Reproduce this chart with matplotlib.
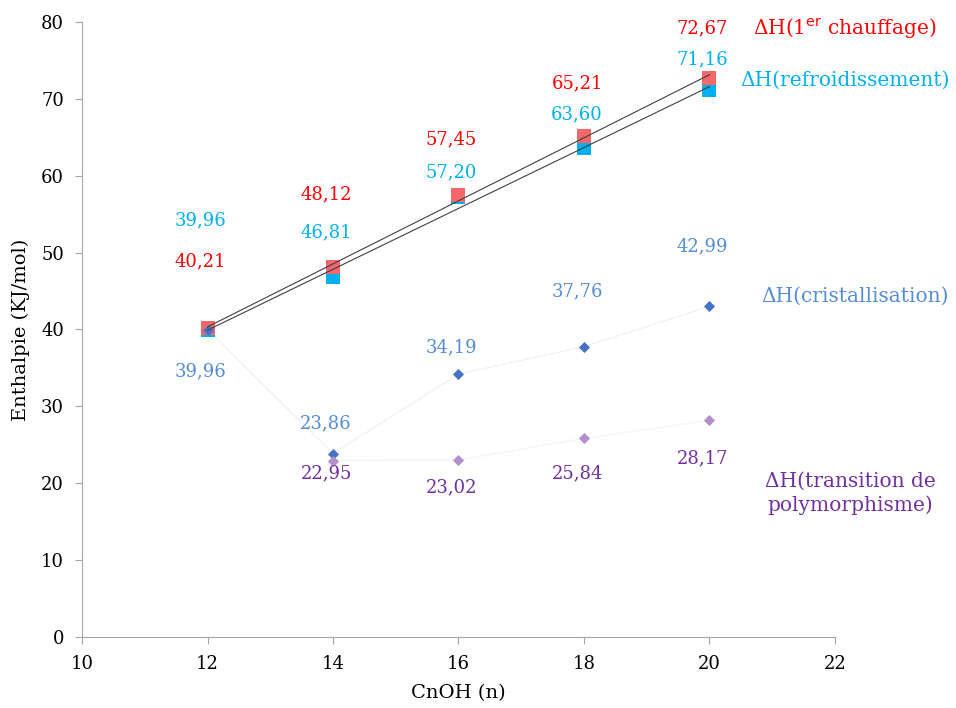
import matplotlib.pyplot as plt
import numpy as np

# CnOH chain length
n_heat = [12, 14, 16, 18, 20]
h_heat = [40.21, 48.12, 57.45, 65.21, 72.67]        # 1er chauffage
h_cool = [39.96, 46.81, 57.20, 63.60, 71.16]        # refroidissement
n_cryst = [12, 14, 16, 18, 20]
h_cryst = [39.96, 23.86, 34.19, 37.76, 42.99]       # cristallisation
n_poly = [14, 16, 18, 20]
h_poly = [22.95, 23.02, 25.84, 28.17]               # transition de polymorphisme

# label offsets (points) above (+) / below (-) each marker
off_heat = [48, 52, 40, 38, 36]
off_cool = [79, 32, 18, 24, 22]
off_cryst = [-30, 22, 19, 40, 43]
off_poly = [-9, -20, -25, -27]

c_heat_txt, c_heat_mk = '#FF0000', '#F4676B'
c_cool = '#00B0F0'
c_cryst_txt, c_cryst_mk = '#558ED5', '#4472C4'
c_poly_txt, c_poly_mk = '#7030A0', '#B38FCC'

plt.rcParams['font.family'] = ['DejaVu Serif']

fig = plt.figure(figsize=(9.56, 7.08), dpi=100)
ax = fig.add_axes([0.0858, 0.1003, 0.7876, 0.8687])

# faint connecting lines
ax.plot(n_cryst, h_cryst, color='#F2F2F2', lw=1, zorder=1)
ax.plot(n_poly, h_poly, color='#F5F5F5', lw=1, zorder=1)

# markers
ax.scatter(n_heat, h_heat, marker='s', s=90, color=c_heat_mk, zorder=3, lw=0)
ax.scatter(n_heat, h_cool, marker='s', s=90, color=c_cool, zorder=2, lw=0)
ax.scatter(n_cryst, h_cryst, marker='D', s=32, color=c_cryst_mk, zorder=3, lw=0)
ax.scatter(n_poly, h_poly, marker='D', s=32, color=c_poly_mk, zorder=3, lw=0)

# linear trend lines
xs = np.array([min(n_heat), max(n_heat)])
for ys in (h_heat, h_cool):
    p = np.polyfit(n_heat, ys, 1)
    ax.plot(xs, np.polyval(p, xs), color='#404040', lw=0.8, zorder=4)

def fmt(v):
    return f'{v:.2f}'.replace('.', ',')

def labels(xv, yv, offs, color):
    for x, y, o in zip(xv, yv, offs):
        ax.annotate(fmt(y), (x, y), xytext=(-5, o), textcoords='offset points',
                    ha='center', va='center', color=color, fontsize=13)

labels(n_heat, h_heat, off_heat, c_heat_txt)
labels(n_heat, h_cool, off_cool, c_cool)
labels(n_cryst, h_cryst, off_cryst, c_cryst_txt)
labels(n_poly, h_poly, off_poly, c_poly_txt)

# series names
fig.text(0.884, 0.960, r'ΔH(1$^{\rm er}$ chauffage)', color=c_heat_txt, fontsize=14.5,
         ha='center', va='center')
fig.text(0.884, 0.887, 'ΔH(refroidissement)', color=c_cool, fontsize=14.5,
         ha='center', va='center')
fig.text(0.894, 0.581, 'ΔH(cristallisation)', color=c_cryst_txt, fontsize=14.5,
         ha='center', va='center')
fig.text(0.889, 0.303, 'ΔH(transition de\npolymorphisme)', color=c_poly_txt, fontsize=14.5,
         ha='center', va='center', linespacing=1.3)

ax.set_xlim(10, 22)
ax.set_ylim(0, 80)
ax.set_xticks(range(10, 23, 2))
ax.set_yticks(range(0, 81, 10))
ax.set_xlabel('CnOH (n)', fontsize=14, labelpad=8)
ax.set_ylabel('Enthalpie (KJ/mol)', fontsize=14, labelpad=8)
ax.tick_params(labelsize=13, direction='out', length=5, color='#A6A6A6', pad=8)
for s in ('top', 'right'):
    ax.spines[s].set_visible(False)
for s in ('left', 'bottom'):
    ax.spines[s].set_color('#A6A6A6')

fig.savefig('out.png', dpi=100)
